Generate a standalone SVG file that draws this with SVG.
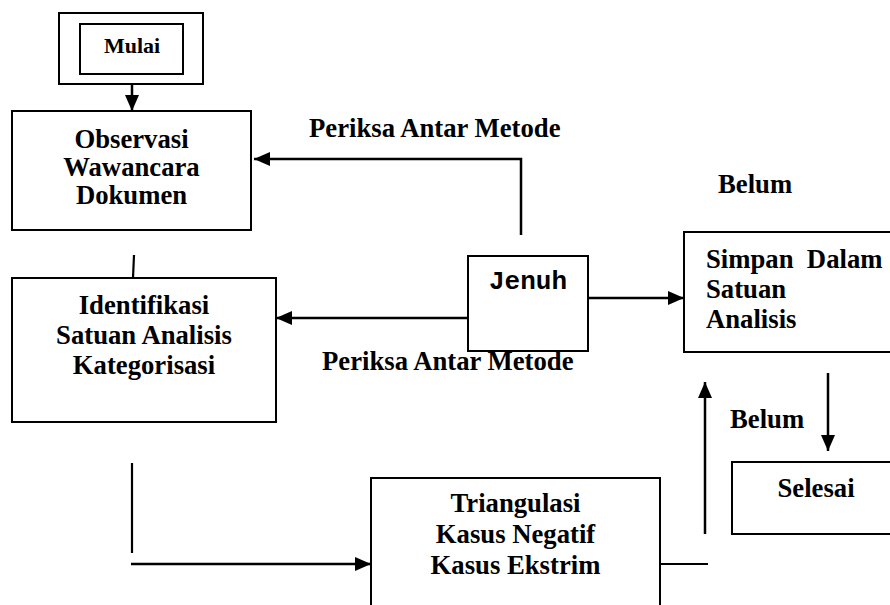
<svg xmlns="http://www.w3.org/2000/svg" width="890" height="605" viewBox="0 0 890 605">
<style>
.box{fill:#fff;stroke:#000;stroke-width:2}
.t{font-family:"Liberation Serif","Times New Roman",serif;font-weight:bold;font-size:26.7px;fill:#000}
.c{text-anchor:middle}
.m{font-family:"Liberation Mono","Courier New",monospace;font-weight:bold;font-size:26px;fill:#000}
.ln{fill:none;stroke:#000;stroke-width:2.2}
.ar{fill:none;stroke:#000;stroke-width:2.5;marker-end:url(#ah)}
</style>
<defs>
<marker id="ah" markerUnits="userSpaceOnUse" markerWidth="16" markerHeight="14" refX="16" refY="7" orient="auto">
<path d="M0,0 L16,7 L0,14 Z" fill="#000"/>
</marker>
</defs>
<rect width="890" height="605" fill="#fff"/>
<g id="connectors">
<line class="ar" x1="132" y1="74" x2="132" y2="111"/>
<polyline class="ar" points="521,235 521,159 254,159"/>
<line class="ar" x1="468" y1="318" x2="276" y2="318"/>
<line class="ln" x1="134" y1="255" x2="133" y2="278"/>
<line class="ar" x1="589" y1="298" x2="684" y2="298"/>
<line class="ar" x1="828" y1="373" x2="828" y2="451"/>
<line class="ln" x1="132" y1="463" x2="132" y2="553"/>
<line class="ar" x1="131" y1="564" x2="371" y2="564"/>
<line class="ln" x1="660" y1="564" x2="708" y2="564"/>
<line class="ar" x1="705" y1="534" x2="705" y2="382"/>
</g>
<g id="mulai">
<rect class="box" x="59" y="13" width="144" height="71"/>
<rect class="box" x="80" y="24" width="103" height="50"/>
<text class="t c" x="132" y="53" style="font-size:22px">Mulai</text>
</g>
<g id="observasi">
<rect class="box" x="12" y="111" width="239" height="119"/>
<text class="t c" x="131.5" y="148">Observasi</text>
<text class="t c" x="131.5" y="176">Wawancara</text>
<text class="t c" x="131.5" y="204">Dokumen</text>
</g>
<g id="identifikasi">
<rect class="box" x="12" y="278" width="264" height="144"/>
<text class="t c" x="144" y="314">Identifikasi</text>
<text class="t c" x="144" y="344">Satuan Analisis</text>
<text class="t c" x="144" y="374">Kategorisasi</text>
</g>
<g id="jenuh">
<rect class="box" x="468" y="256" width="120" height="95"/>
<text class="m c" x="528" y="289">Jenuh</text>
</g>
<g id="simpan">
<rect class="box" x="684" y="232" width="220" height="120"/>
<text class="t" x="706" y="268" style="white-space:pre">Simpan  Dalam</text>
<text class="t" x="706" y="298">Satuan</text>
<text class="t" x="706" y="328">Analisis</text>
</g>
<g id="selesai">
<rect class="box" x="732" y="462" width="170" height="72"/>
<text class="t c" x="816" y="497">Selesai</text>
</g>
<g id="triangulasi">
<rect class="box" x="371" y="478" width="289" height="140"/>
<text class="t c" x="515.5" y="512">Triangulasi</text>
<text class="t c" x="515.5" y="543">Kasus Negatif</text>
<text class="t c" x="515.5" y="574">Kasus Ekstrim</text>
</g>
<g id="labels">
<text class="t" x="309" y="137">Periksa Antar Metode</text>
<text class="t" x="322" y="370">Periksa Antar Metode</text>
<text class="t" x="718" y="193">Belum</text>
<text class="t" x="730" y="428">Belum</text>
</g>
</svg>
